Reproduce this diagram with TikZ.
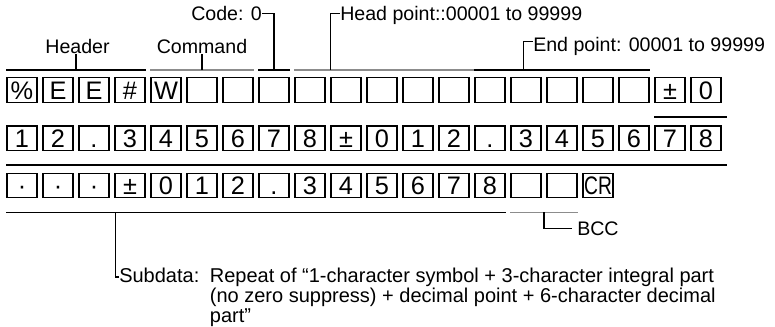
\documentclass[tikz,border=0pt]{standalone}
\usepackage{fontspec}
\setmainfont{Liberation Sans}
\usepackage{graphicx}
\usetikzlibrary{calc}
\tikzset{
  cell/.style={draw=black, line width=1pt, minimum width=22.5pt, minimum height=18.4pt, inner sep=0pt, text height=13.6pt, text depth=0pt, font=\fontsize{19}{19}\selectfont},
  lbl/.style={inner sep=0pt, text height=11pt, text depth=0pt, font=\fontsize{14.7}{15}\selectfont},
  note/.style={align=left, inner sep=0pt, font=\fontsize{15}{15}\selectfont},
  bar/.style={line width=1.4pt},
  greybar/.style={line width=1.4pt, draw=black!45},
  tick/.style={line width=0.9pt}
}
\begin{document}
\begin{tikzpicture}[x=0.75pt, y=-0.75pt]
\useasboundingbox (0,0) rectangle (775,326);
% character cells, one row per line of the frame
\foreach \t [count=\i] in {\%,E,E,\#,W,,,,,,,,,,,,,,±,0}
  \node[cell] (a\i) at ({22+36*(\i-1)},90) {\t};
\foreach \t [count=\i] in {1,2,.,3,4,5,6,7,8,±,0,1,2,.,3,4,5,6,7,8}
  \node[cell] (b\i) at ({22+36*(\i-1)},138.3) {\t};
\foreach \t [count=\i] in {·,·,·,±,0,1,2,.,3,4,5,6,7,8,,,\scalebox{0.76}[1]{CR}}
  \node[cell] (c\i) at ({22+36*(\i-1)},185.5) {\t};
% field bars above the first row
\draw[bar] ($(a1.north west)+(0,-7.5)$) -- coordinate (hdrM) ($(a4.north east)+(0,-7.5)$);
\draw[greybar] ($(a5.north west)+(0,-7.5)$) -- coordinate (cmdM) ($(a7.north east)+(0,-7.5)$);
\draw[bar] ($(a8.north west)+(0,-7.5)$) -- coordinate (codeM) ($(a8.north east)+(0,-7.5)$);
\draw[greybar] ($(a9.north west)+(0,-7.5)$) -- ($(a13.north east)+(4,-7.5)$);
\draw[bar] ($(a14.north west)+(0,-7.5)$) -- ($(a18.north east)+(0,-7.5)$);
% subdata and BCC bars
\draw[bar] ($(a19.south west)+(0,14)$) -- ($(a20.south east)+(5,14)$);
\draw[bar] ($(b1.south west)+(0,14)$) -- ($(b20.south east)+(5,14)$);
\draw[bar] ($(c1.south west)+(0,14)$) -- ($(c14.south east)+(0,14)$);
\draw[greybar] ($(c15.south west)+(0,14)$) -- coordinate (bccM) ($(c16.south east)+(0,14)$);
% labels
\node[lbl] (hdr) at (77.5,46) {Header};
\node[lbl] (cmd) at (202,46) {Command};
\node[lbl, anchor=east] (code) at (262,13.5) {Code: 0};
\node[lbl, anchor=west] (head) at (340,13.5) {Head point::00001 to 99999};
\node[lbl, anchor=west] (endp) at (533,44.5) {End point: 00001 to 99999};
\node[lbl, anchor=west, inner xsep=3.75pt] (bcc) at (572,228.5) {BCC};
\node[note, anchor=north west] (sub) at (119,268) {\makebox[68pt][l]{Subdata:}Repeat of “1-character symbol + 3-character integral part\\
  \hspace*{68pt}(no zero suppress) + decimal point + 6-character decimal\\
  \hspace*{68pt}part”};
\coordinate (subE) at ($(sub.north west)+(0,9)$);
% leader lines
\draw[tick] (hdrM) -- (hdrM |- hdr.south);
\draw[tick] (cmdM) -- (cmdM |- cmd.south);
\draw[tick] (codeM) |- (code.east);
\draw[tick] ($(a9.north west)+(36,-7.5)$) |- (head.west);
\draw[tick] ($(a14.north west)+(49,-7.5)$) |- ($(endp.west)+(0,-3)$);
\draw[tick] (bccM) |- (bcc.west);
\draw[tick] ($(c4.south west)+(1,14)$) |- (subE);
\end{tikzpicture}
\end{document}
